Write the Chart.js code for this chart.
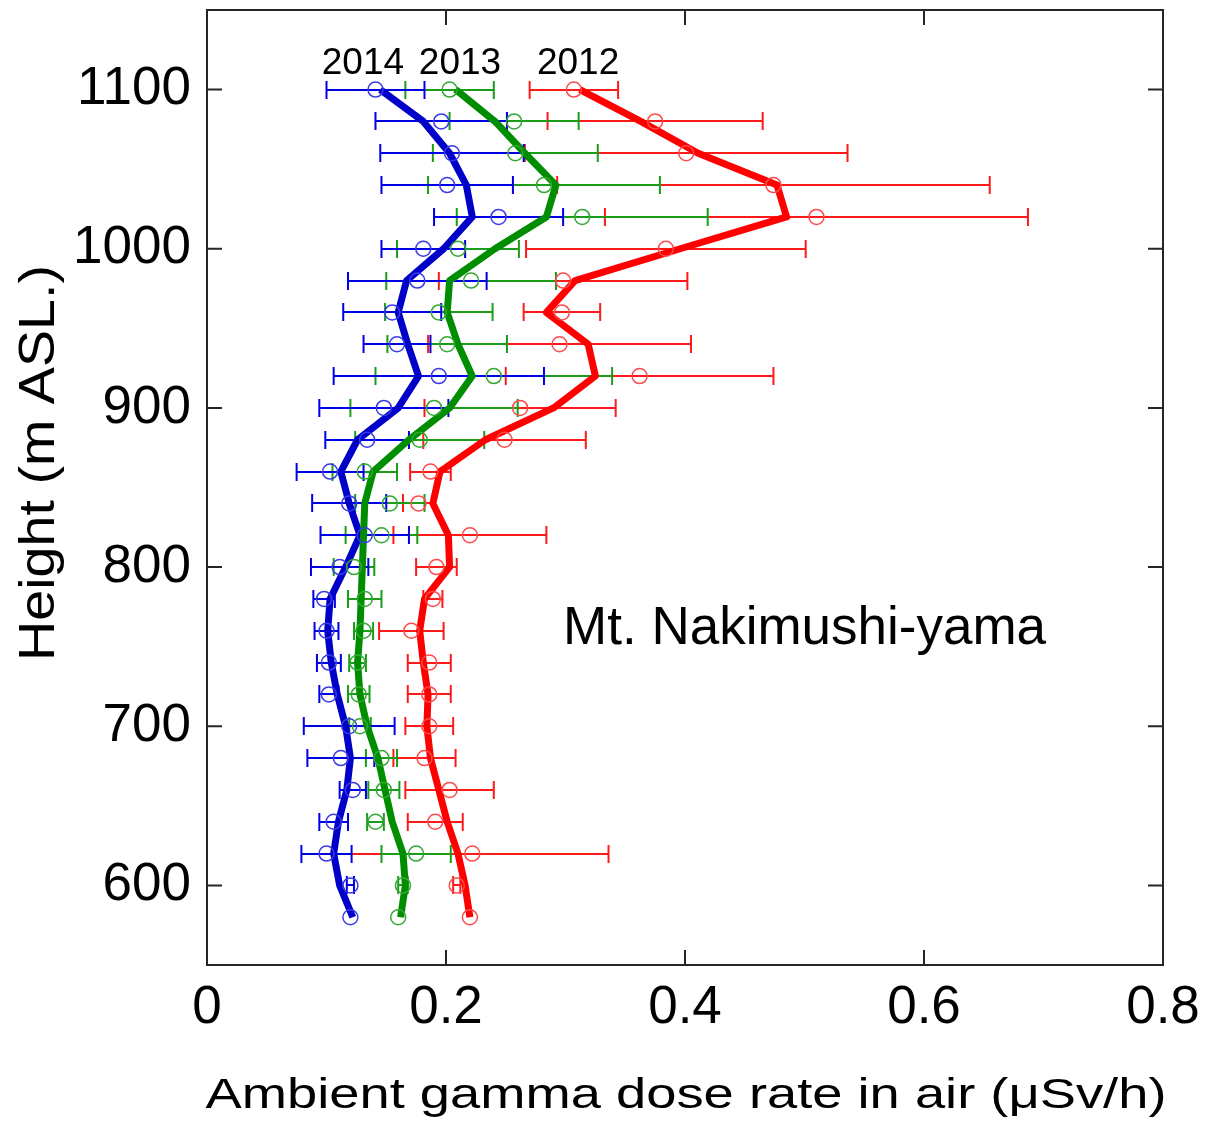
<!DOCTYPE html>
<html>
<head>
<meta charset="utf-8">
<title>Mt. Nakimushi-yama dose rate profile</title>
<script src="https://cdn.jsdelivr.net/npm/chart.js@4.4.1/dist/chart.umd.min.js"></script>
<style>
  html, body { margin: 0; padding: 0; background: #ffffff; }
  #wrap { width: 1208px; height: 1123px; }
</style>
</head>
<body>
<div id="wrap"><canvas id="chart" width="1208" height="1123"></canvas></div>
<script>
// Survey heights (m ASL.), top of the trail first
const heights = [1100, 1080, 1060, 1040, 1020, 1000, 980, 960, 940, 920, 900, 880, 860, 840,
                 820, 800, 780, 760, 740, 720, 700, 680, 660, 640, 620, 600, 580];

// Mean dose rate (µSv/h) at each height
const dose2012 = [0.307, 0.375, 0.401, 0.474, 0.510, 0.384, 0.298, 0.297, 0.295, 0.362, 0.262, 0.249, 0.187, 0.177,
                  0.220, 0.192, 0.189, 0.171, 0.186, 0.186, 0.186, 0.182, 0.203, 0.191, 0.222, 0.209, 0.220];
const dose2013 = [0.203, 0.257, 0.258, 0.282, 0.314, 0.210, 0.221, 0.194, 0.201, 0.240, 0.190, 0.178, 0.132, 0.153,
                  0.146, 0.123, 0.132, 0.131, 0.126, 0.127, 0.128, 0.146, 0.148, 0.141, 0.175, 0.164, 0.160];
const dose2014 = [0.141, 0.196, 0.205, 0.201, 0.244, 0.181, 0.176, 0.155, 0.159, 0.194, 0.148, 0.134, 0.103, 0.119,
                  0.132, 0.111, 0.098, 0.100, 0.102, 0.102, 0.119, 0.112, 0.122, 0.106, 0.100, 0.120, 0.120];

// Standard deviation (µSv/h) at each height
const sd2012 = [0.037, 0.090, 0.135, 0.181, 0.177, 0.117, 0.104, 0.032, 0.110, 0.112, 0.080, 0.068, 0.017, 0.013,
                0.064, 0.017, 0.008, 0.027, 0.018, 0.018, 0.020, 0.026, 0.037, 0.023, 0.114, 0.003, 0.000];
const sd2013 = [0.037, 0.054, 0.069, 0.097, 0.105, 0.051, 0.071, 0.045, 0.050, 0.099, 0.070, 0.054, 0.027, 0.029,
                0.030, 0.017, 0.014, 0.008, 0.007, 0.009, 0.009, 0.013, 0.013, 0.007, 0.029, 0.004, 0.000];
const sd2014 = [0.041, 0.055, 0.060, 0.055, 0.054, 0.035, 0.058, 0.041, 0.028, 0.088, 0.054, 0.035, 0.028, 0.031,
                0.037, 0.024, 0.009, 0.010, 0.010, 0.008, 0.038, 0.028, 0.011, 0.012, 0.021, 0.003, 0.000];

// Smoothed profile (µSv/h) at each height
const smooth2012 = [0.312, 0.363, 0.411, 0.477, 0.485, 0.396, 0.308, 0.284, 0.319, 0.325, 0.290, 0.233, 0.195, 0.189,
                    0.202, 0.203, 0.182, 0.178, 0.181, 0.185, 0.184, 0.187, 0.194, 0.201, 0.210, 0.216, 0.220];
const smooth2013 = [0.208, 0.241, 0.266, 0.292, 0.284, 0.241, 0.203, 0.201, 0.210, 0.222, 0.203, 0.169, 0.139, 0.132,
                    0.131, 0.130, 0.129, 0.128, 0.126, 0.128, 0.134, 0.143, 0.149, 0.155, 0.164, 0.166, 0.162];
const smooth2014 = [0.145, 0.181, 0.203, 0.217, 0.222, 0.198, 0.167, 0.160, 0.168, 0.177, 0.160, 0.126, 0.112, 0.119,
                    0.128, 0.116, 0.103, 0.101, 0.104, 0.109, 0.116, 0.120, 0.117, 0.110, 0.106, 0.111, 0.122];

// Axis ticks
const xTicks = [0, 0.2, 0.4, 0.6, 0.8];
const xTickLabels = ['0', '0.2', '0.4', '0.6', '0.8'];
const yTicks = [600, 700, 800, 900, 1000, 1100];
const yTickLabels = ['600', '700', '800', '900', '1000', '1100'];

const years = ['2012', '2013', '2014'];
const xTitle = 'Ambient gamma dose rate in air (\u03bcSv/h)';
const yTitle = 'Height (m ASL.)';
const siteName = 'Mt. Nakimushi-yama';

const FONT = '"Liberation Sans", Arial, Helvetica, sans-serif';

// One entry per survey year; red is drawn first so blue sits on top
const series = [
  { year: years[0], mean: dose2012, sd: sd2012, smooth: smooth2012,
    line: '#ff0000', bar: '#ff1a1a', ring: '#ff4a4a' },
  { year: years[1], mean: dose2013, sd: sd2013, smooth: smooth2013,
    line: '#008e00', bar: '#1a9e1a', ring: '#33a833' },
  { year: years[2], mean: dose2014, sd: sd2014, smooth: smooth2014,
    line: '#0000c8', bar: '#0000e6', ring: '#3a3ae8' }
];

const toPoints = arr => heights.map((h, i) => ({ x: arr[i], y: h }));

const datasets = [];
series.forEach(s => {
  datasets.push({
    label: s.year + ' mean',
    data: toPoints(s.mean),
    showLine: false,
    pointStyle: 'circle',
    pointRadius: 7.5,
    pointBorderWidth: 1.5,
    pointBorderColor: s.ring,
    pointBackgroundColor: 'rgba(0,0,0,0)',
    pointHoverRadius: 7.5,
    order: 0
  });
  datasets.push({
    label: s.year + ' smoothed',
    data: toPoints(s.smooth),
    showLine: true,
    borderColor: s.line,
    borderWidth: 7,
    borderJoinStyle: 'round',
    borderCapStyle: 'butt',
    tension: 0,
    pointRadius: 0,
    pointHoverRadius: 0,
    order: 1
  });
});

// Horizontal ±SD bars with end caps, under the curves
const errorBars = {
  id: 'errorBars',
  beforeDatasetsDraw(chart) {
    const { ctx, scales: { x, y } } = chart;
    const cap = 9;
    ctx.save();
    ctx.lineWidth = 2;
    ctx.lineCap = 'butt';
    series.forEach(s => {
      ctx.strokeStyle = s.bar;
      s.mean.forEach((v, i) => {
        const d = s.sd[i];
        if (!d) return;
        const py = Math.round(y.getPixelForValue(heights[i]));
        const x0 = x.getPixelForValue(v - d);
        const x1 = x.getPixelForValue(v + d);
        ctx.beginPath();
        ctx.moveTo(x0, py); ctx.lineTo(x1, py);
        ctx.moveTo(x0, py - cap); ctx.lineTo(x0, py + cap);
        ctx.moveTo(x1, py - cap); ctx.lineTo(x1, py + cap);
        ctx.stroke();
      });
    });
    ctx.restore();
  }
};

// Boxed frame with inward tick marks on all four sides, plus the text annotations
const frameAndText = {
  id: 'frameAndText',
  afterDraw(chart) {
    const { ctx, chartArea: a, scales: { x, y } } = chart;
    const tick = 15;
    ctx.save();
    ctx.strokeStyle = '#262626';
    ctx.lineWidth = 2;
    ctx.strokeRect(a.left, a.top, a.right - a.left, a.bottom - a.top);
    ctx.beginPath();
    xTicks.forEach(v => {
      const px = x.getPixelForValue(v);
      ctx.moveTo(px, a.bottom); ctx.lineTo(px, a.bottom - tick);
      ctx.moveTo(px, a.top); ctx.lineTo(px, a.top + tick);
    });
    yTicks.forEach(v => {
      const py = y.getPixelForValue(v);
      ctx.moveTo(a.left, py); ctx.lineTo(a.left + tick, py);
      ctx.moveTo(a.right, py); ctx.lineTo(a.right - tick, py);
    });
    ctx.stroke();

    ctx.fillStyle = '#000000';
    ctx.textBaseline = 'alphabetic';

    // Year labels above the top row
    ctx.font = '37px ' + FONT;
    ctx.textAlign = 'center';
    const yearSpots = [
      { text: years[2], x: 0.1305 },
      { text: years[1], x: 0.2117 },
      { text: years[0], x: 0.3105 }
    ];
    yearSpots.forEach(p => ctx.fillText(p.text, x.getPixelForValue(p.x), y.getPixelForValue(1110)));

    // Site name
    ctx.font = '53px ' + FONT;
    ctx.textAlign = 'left';
    ctx.fillText(siteName, x.getPixelForValue(0.298), y.getPixelForValue(751.5));

    // X axis title, set wide
    ctx.font = '42px ' + FONT;
    ctx.textAlign = 'center';
    const xw = ctx.measureText(xTitle).width;
    ctx.save();
    ctx.translate(686, 1108);
    ctx.scale(961 / xw, 1);
    ctx.fillText(xTitle, 0, 0);
    ctx.restore();

    // Y axis title, rotated
    ctx.font = '50px ' + FONT;
    const yw = ctx.measureText(yTitle).width;
    ctx.save();
    ctx.translate(54, 463);
    ctx.rotate(-Math.PI / 2);
    ctx.scale(396 / yw, 1);
    ctx.fillText(yTitle, 0, 0);
    ctx.restore();

    ctx.restore();
  }
};

new Chart(document.getElementById('chart'), {
  type: 'scatter',
  data: { datasets },
  options: {
    responsive: false,
    animation: false,
    events: [],
    layout: { padding: { top: 10, right: 45, left: 0, bottom: 0 } },
    plugins: { legend: { display: false }, tooltip: { enabled: false } },
    scales: {
      x: {
        type: 'linear',
        min: 0,
        max: 0.8,
        afterBuildTicks: s => { s.ticks = xTicks.map(v => ({ value: v })); },
        afterFit: s => { s.height = 158; s.paddingLeft = 0; s.paddingRight = 0; },
        grid: { display: false, drawTicks: false },
        border: { display: false },
        ticks: {
          padding: 12,
          color: '#000000',
          font: { family: FONT, size: 53 },
          maxRotation: 0,
          callback: (v, i) => xTickLabels[i]
        }
      },
      y: {
        type: 'linear',
        min: 550,
        max: 1150,
        afterBuildTicks: s => { s.ticks = yTicks.map(v => ({ value: v })); },
        afterFit: s => { s.width = 207; s.paddingTop = 0; s.paddingBottom = 0; },
        grid: { display: false, drawTicks: false },
        border: { display: false },
        ticks: {
          padding: 16,
          color: '#000000',
          font: { family: FONT, size: 53 },
          callback: (v, i) => yTickLabels[i]
        }
      }
    }
  },
  plugins: [errorBars, frameAndText]
});
</script>
</body>
</html>
